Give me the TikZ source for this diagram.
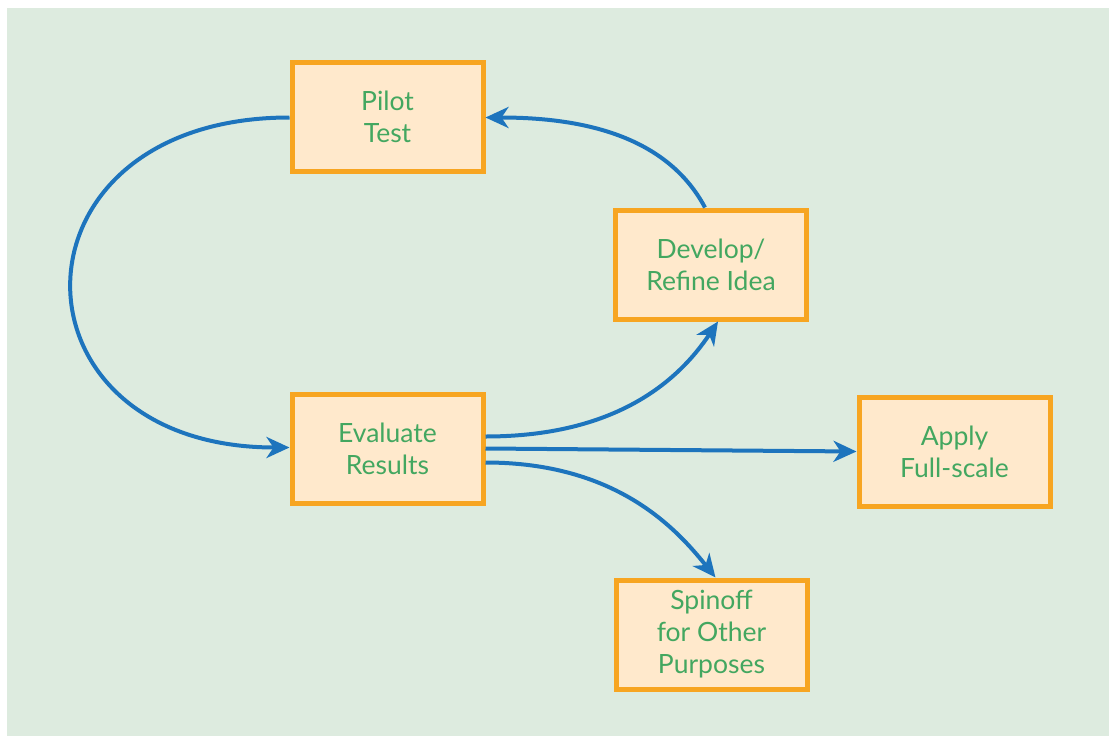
\documentclass[tikz,border=0pt]{standalone}
\usepackage{fontspec}
\setmainfont{Lato}
\usepackage{xcolor}
\usepackage{tikz}
\usetikzlibrary{arrows.meta}
\usetikzlibrary{positioning}
\definecolor{bgreen}{HTML}{DDEBDF}
\definecolor{boxfill}{HTML}{FFE9CC}
\definecolor{boxline}{HTML}{F7A521}
\definecolor{txtgreen}{HTML}{43A760}
\definecolor{arrowblue}{HTML}{1D74BD}
\tikzset{
 stagebox/.style={draw=boxline,fill=boxfill,line width=5pt,minimum width=191pt,minimum height=109pt,
 align=center,text=txtgreen,font=\fontsize{26.5}{32}\selectfont,inner sep=0pt},
 flow/.style={draw=arrowblue,line width=4pt,-{Stealth[length=23pt,width=21pt,inset=7pt]}}
}
\begin{document}
\begin{tikzpicture}[x=1pt,y=-1pt]
 	\useasboundingbox (0,0) rectangle (1109,736);
 	\fill[bgreen] (7,8) rectangle (1109,736);
 	\node[stagebox] (pilot) at (387.5,116.5) {Pilot\\Test};
 	\node[stagebox] (develop) at (711,264.5) {Develop/\\Refine Idea};
 	\node[stagebox] (evaluate) at (387.5,448.5) {Evaluate\\Results};
 	\node[stagebox] (apply) at (954.5,451.5) {Apply\\Full-scale};
 	\node[stagebox] (spinoff) at (711.5,634.5) {Spinoff\\for Other\\Purposes};
 	\draw[flow] ([yshift=-1pt]pilot.west) .. controls +(-290,0) and +(-290,0) .. ([yshift=1pt]evaluate.west);
 	\draw[flow] ([xshift=-6pt]develop.north) .. controls +(-40,-75) and +(90,0) .. ([yshift=-1pt]pilot.east);
 	\draw[flow] ([yshift=12pt]evaluate.east) .. controls +(130,0) and +(-40,60) .. ([xshift=7pt]develop.south);
 	\draw[flow] (evaluate.east) -- (apply.west);
 	\draw[flow] ([yshift=-14pt]evaluate.east) .. controls +(130,0) and +(-40,-50) .. ([xshift=4pt]spinoff.north);
\end{tikzpicture}
\end{document}
